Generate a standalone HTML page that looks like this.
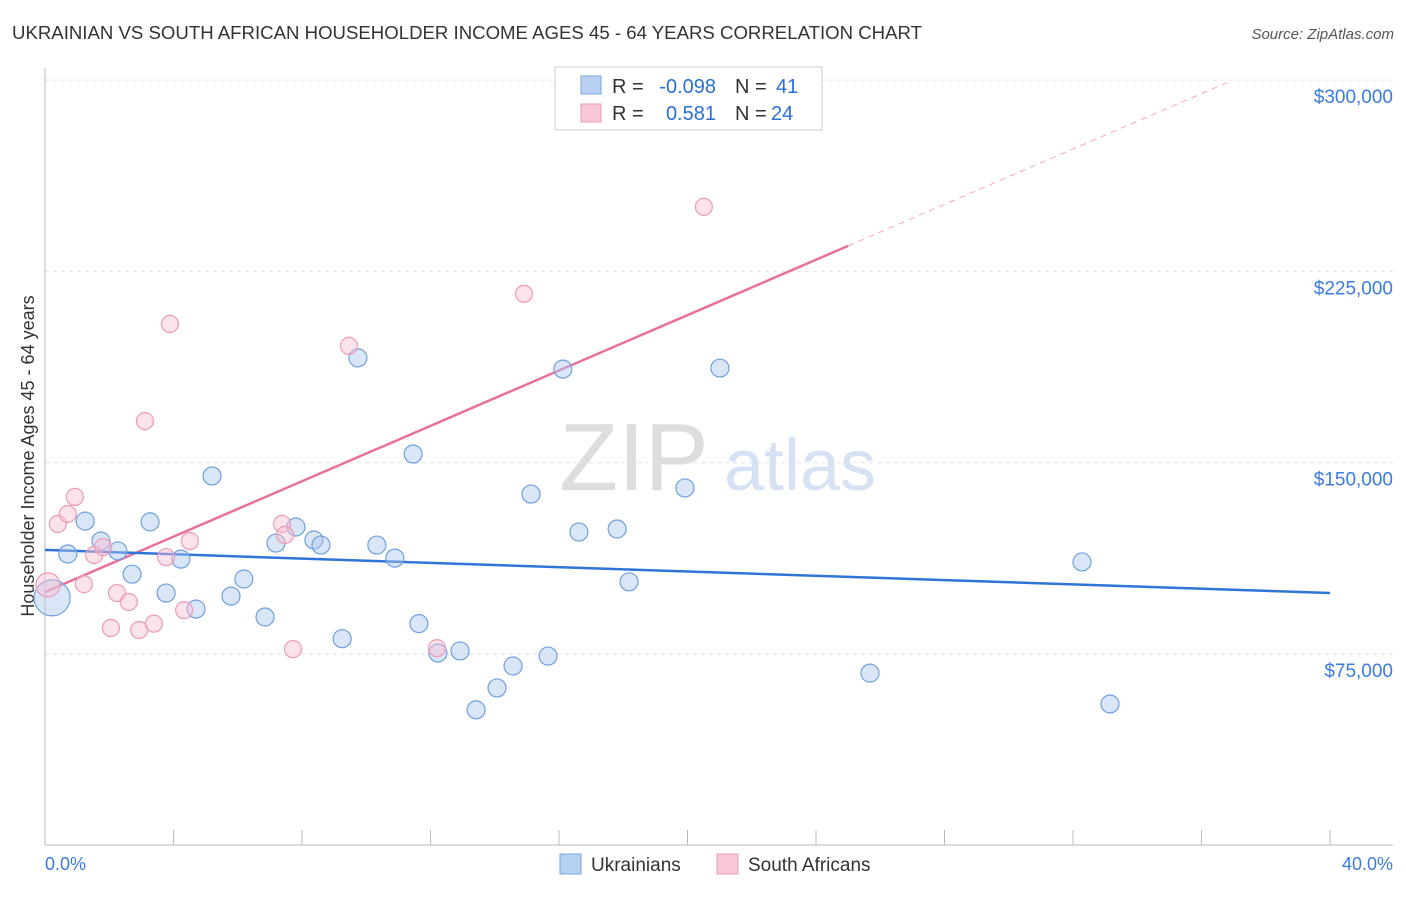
<!DOCTYPE html>
<html><head><meta charset="utf-8">
<style>
body{margin:0;background:#fff;font-family:"Liberation Sans",sans-serif;}
svg text{font-family:"Liberation Sans",sans-serif;}
</style></head>
<body>
<svg id="chart" width="1406" height="892" xmlns="http://www.w3.org/2000/svg">
<text x="12" y="39" font-size="18" fill="#333" textLength="910" lengthAdjust="spacingAndGlyphs">UKRAINIAN VS SOUTH AFRICAN HOUSEHOLDER INCOME AGES 45 - 64 YEARS CORRELATION CHART</text>
<text x="1394" y="39" font-size="15" fill="#555" text-anchor="end" font-style="italic">Source: ZipAtlas.com</text>
<text x="634" y="490" font-size="96" fill="#ddd" font-family="Liberation Serif" text-anchor="middle">ZIP</text>
<text x="800" y="490" font-size="72" fill="#d6e2f3" text-anchor="middle">atlas</text>
<text transform="translate(34,456) rotate(-90)" font-size="18" fill="#333" text-anchor="middle">Householder Income Ages 45 - 64 years</text>
<g id="grid"></g><g id="axes"></g><g id="lines"></g><g id="pts"></g>
<g>
<rect x="555" y="67" width="267" height="63" fill="#fff" stroke="#ccc"/>
<rect x="581" y="76" width="20" height="18" fill="#b8d0f2" stroke="#7aa6e0"/>
<rect x="581" y="104" width="20" height="18" fill="#f9c8d6" stroke="#ee9ab4"/>
<text x="612" y="93" font-size="20" fill="#333">R =</text>
<text x="716" y="93" font-size="20" fill="#2a6fd6" text-anchor="end">-0.098</text>
<text x="735" y="93" font-size="20" fill="#333">N =</text>
<text x="776" y="93" font-size="20" fill="#2a6fd6">41</text>
<text x="612" y="120" font-size="20" fill="#333">R =</text>
<text x="716" y="120" font-size="20" fill="#2a6fd6" text-anchor="end">0.581</text>
<text x="735" y="120" font-size="20" fill="#333">N =</text>
<text x="771" y="120" font-size="20" fill="#2a6fd6">24</text>
</g>
<g>
<rect x="560" y="854" width="21" height="20" fill="#b8d0f2" stroke="#7aa6e0"/>
<text x="591" y="871" font-size="19" fill="#333">Ukrainians</text>
<rect x="717" y="854" width="21" height="20" fill="#f9c8d6" stroke="#ee9ab4"/>
<text x="748" y="871" font-size="19" fill="#333">South Africans</text>
</g>
<text x="45" y="870" font-size="18" fill="#3a7be0">0.0%</text>
<text x="1393" y="870" font-size="18" fill="#3a7be0" text-anchor="end">40.0%</text>
</svg>
<script>
const yTicks=[75000,150000,225000,300000];
const yTickLabels=["$75,000","$150,000","$225,000","$300,000"];
const xTicks=[0,4,8,12,16,20,24,28,32,36,40];
const blueX=[0.22,0.71,1.25,1.74,2.27,2.71,3.27,3.77,4.23,4.70,5.20,5.79,6.19,6.85,7.19,7.81,8.37,8.59,9.25,9.74,10.33,10.89,11.46,11.64,12.23,12.92,13.42,14.07,14.57,15.13,15.66,16.12,16.62,17.81,18.18,19.92,21.01,25.68,32.28,33.15];
const blueY=[97000,114200,127100,119300,115400,106300,126800,98900,112200,92600,144800,97700,104400,89500,118500,124800,119700,117700,81000,191100,117700,112600,153400,86900,75400,76200,53100,61700,70300,137700,74200,186700,122800,124000,103300,140100,187100,67500,111100,55400];
const pinkX=[0.09,0.40,0.71,0.93,1.21,1.53,1.81,2.05,2.24,2.61,2.93,3.11,3.39,3.77,3.89,4.33,4.51,7.38,7.47,7.72,9.46,12.20,14.91,20.51];
const pinkY=[102100,126000,129900,136600,102400,113800,116900,85200,98900,95400,84400,166300,86900,113000,204400,92200,119300,126000,121700,76900,195800,77300,216200,250300];
const blueTrend=[115800,98900];
const pinkTrend=[99300,235000,25];
const X=p=>45+p*1285/40;
const Y=v=>845.3-v*191.3/75000;
const NS="http://www.w3.org/2000/svg";
function mk(t,a,par){const e=document.createElementNS(NS,t);for(const k in a)e.setAttribute(k,a[k]);document.getElementById(par).appendChild(e);return e;}
yTicks.forEach((v,i)=>{
 const l=mk('line',{x1:45,x2:1393,y1:Y(v),y2:Y(v),stroke:'#e2e2e2','stroke-dasharray':'4,4'},'grid');
 
 
 const t=mk('text',{x:1393,y:Y(v)+23,'font-size':19,fill:'#3a7be0','text-anchor':'end'},'grid');
 t.textContent=yTickLabels[i];
 
 
});
const ax=mk('line',{x1:45,x2:45,y1:68,y2:845,stroke:'#bbb'},'axes');


const bx=mk('line',{x1:45,x2:1393,y1:845,y2:845,stroke:'#bbb'},'axes');


xTicks.forEach(p=>{const t=mk('line',{x1:X(p),x2:X(p),y1:830,y2:845,stroke:'#bbb'},'axes');
 
 });
const slope=(pinkTrend[1]-pinkTrend[0])/pinkTrend[2];
const pd=mk('line',{x1:X(pinkTrend[2]),y1:Y(pinkTrend[1]),x2:X(36.9),y2:Y(pinkTrend[0]+slope*36.9),stroke:'#f0a8c0','stroke-dasharray':'6,5','stroke-width':1},'lines');


const ps=mk('line',{x1:X(0),y1:Y(pinkTrend[0]),x2:X(pinkTrend[2]),y2:Y(pinkTrend[1]),stroke:'#e8709a','stroke-width':2.5},'lines');


const bl=mk('line',{x1:X(0),y1:Y(blueTrend[0]),x2:X(40),y2:Y(blueTrend[1]),stroke:'#2f74d6','stroke-width':2.5},'lines');


blueX.forEach((x,i)=>{const c=mk('circle',{cx:X(x),cy:Y(blueY[i]),r:i==0?18:9,fill:'rgba(170,200,240,0.45)',stroke:'#6f9fde','stroke-width':1.2},'pts');
 
 });
pinkX.forEach((x,i)=>{const c=mk('circle',{cx:X(x),cy:Y(pinkY[i]),r:i==0?12:8.5,fill:'rgba(248,190,210,0.45)',stroke:'#ec9ab6','stroke-width':1.2},'pts');
 
 });
</script>
</body></html>
